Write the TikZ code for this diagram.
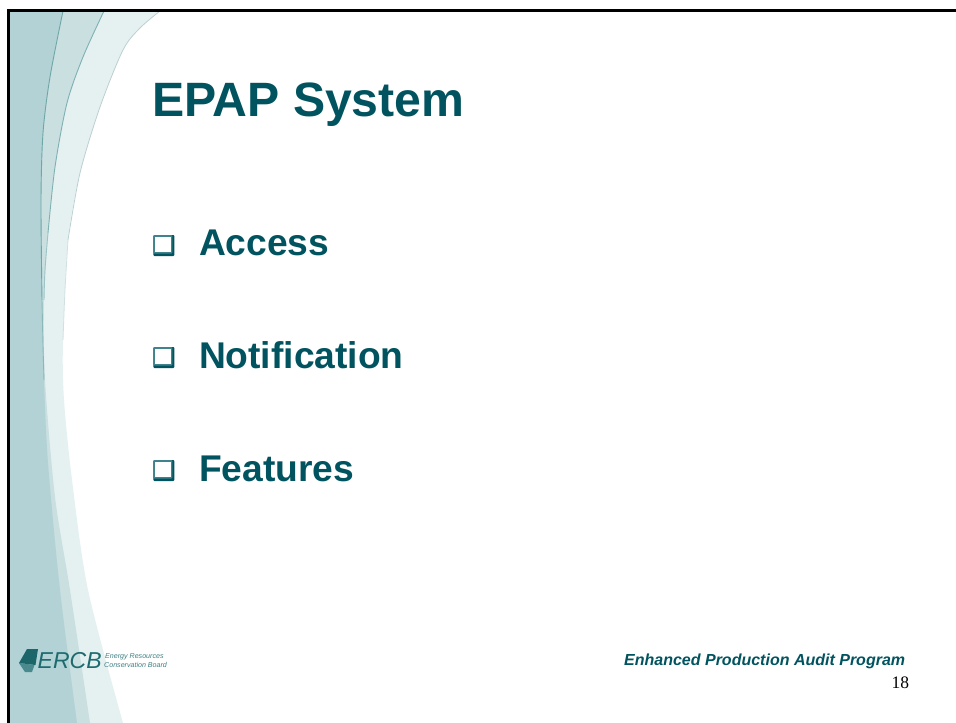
\documentclass[tikz,border=0pt]{standalone}
\usepackage{fontspec}
\setmainfont{Liberation Sans}
\newfontfamily\timesfont{Liberation Serif}
\definecolor{epteal}{HTML}{01545F}
\definecolor{boxedge}{HTML}{3F838C}
\definecolor{bandA}{HTML}{B2D2D5}
\definecolor{bandB}{HTML}{C9DFE0}
\definecolor{bandC}{HTML}{E5F0F1}
\definecolor{lineA}{HTML}{6FA6A8}
\definecolor{lineB}{HTML}{7FB1B2}
\definecolor{lineC}{HTML}{BCD0D1}
\definecolor{logoteal}{HTML}{1D6B6F}
\tikzset{
  txt/.style={anchor=base west,inner sep=0pt,outer sep=0pt,text=epteal,font=\bfseries\fontsize{37.2bp}{40bp}\selectfont},
  titletxt/.style={txt,font=\bfseries\fontsize{48.2bp}{52bp}\selectfont},
  foot/.style={anchor=base west,inner sep=0pt,text=epteal,font=\bfseries\itshape\fontsize{16bp}{20bp}\selectfont},
  logotxt/.style={anchor=base west,inner sep=0pt,text=logoteal,font=\itshape\fontsize{23bp}{24bp}\selectfont},
  logosmall/.style={anchor=base west,inner sep=0pt,text=logoteal!85,font=\itshape\fontsize{7.1bp}{8bp}\selectfont},
  frameline/.style={black,line width=2.6bp},
}
\newcommand{\bulletbox}[2]{%
  \fill[epteal,rounded corners=1bp] (#1,#2) rectangle ++(21,21);
  \fill[boxedge,rounded corners=1bp] (#1,#2) rectangle ++(19,18.5);
  \fill[white] (#1+1.8,#2+1.6) rectangle ++(15.6,15.4);
}
\begin{document}
\begin{tikzpicture}[x=1bp,y=-1bp]
\useasboundingbox (0,0) rectangle (956,723);
\fill[white] (0,0) rectangle (956,723);
\begin{scope}
\clip (0,0) rectangle (956,723);
% bands
\fill[bandC] (8,11) -- (160,11) -- plot[smooth] coordinates {(160,11) (140,28) (123,50) (100,107) (80,173) (68,240) (63,340) (64,400) (72,480) (88,590) (123,723)} -- (8,723) -- cycle;
\fill[bandB] (8,11) -- (104,11) -- plot[smooth] coordinates {(104,11) (83,57) (67,103) (55,167) (48,233) (44,300) (45,380) (55,497) (70,590) (90,723)} -- (8,723) -- cycle;
\fill[bandA] (8,11) -- (63,11) -- plot[smooth] coordinates {(63,11) (50,77) (43,133) (41,200) (42,300) (44,380) (48,463) (60,590) (77,723)} -- (8,723) -- cycle;
% band edges
\draw[lineA,line width=0.9bp] plot[smooth] coordinates {(63,11) (50,77) (43,133) (41,200) (42,300)};
\draw[lineA!60!bandA,line width=0.9bp] plot[smooth] coordinates {(42,300) (43,345) (44,380)};
\draw[lineB,line width=0.9bp] plot[smooth] coordinates {(104,11) (83,57) (67,103) (55,167) (48,233)};
\draw[lineB!70!bandC,line width=0.9bp] plot[smooth] coordinates {(48,233) (45,270) (44,300)};
\draw[lineC,line width=0.8bp] plot[smooth] coordinates {(160,11) (140,28) (123,50) (100,107) (80,173) (68,240)};
\draw[lineC!50!bandC,line width=0.8bp] plot[smooth] coordinates {(68,240) (65,290) (63,340)};
\end{scope}
% frame
\draw[frameline] (8.5,723) -- (8.5,10.5) -- (956,10.5);
% title and items
\node[titletxt] (title) at (152,117) {EPAP System};
\bulletbox{153.4}{235}
\node[txt] (access) at (199,255) {Access};
\bulletbox{153.4}{347}
\node[txt] (notif) at (199,368) {Notification};
\bulletbox{153.4}{460}
\node[txt] (feat) at (199,481) {Features};
% footer
\node[foot] (program) at (624,665) {Enhanced Production Audit Program};
\node[anchor=base west,inner sep=0pt,text=black,font=\timesfont\fontsize{17.5bp}{20bp}\selectfont] (page) at (891.5,688) {18};
% logo
\fill[logoteal!70!bandA] (19,663) -- (25,672) -- (32,672) -- (34.5,665) -- cycle;
\fill[logoteal!95!black] (27,649) -- (38,649) -- (35.5,665) -- (19,663) -- cycle;
\node[logotxt] (ercb) at (37.5,668) {ERCB};
\node[logosmall] (l1) at (105,658) {Energy Resources};
\node[logosmall] (l2) at (104,667.5) {Conservation Board};
\end{tikzpicture}
\end{document}
